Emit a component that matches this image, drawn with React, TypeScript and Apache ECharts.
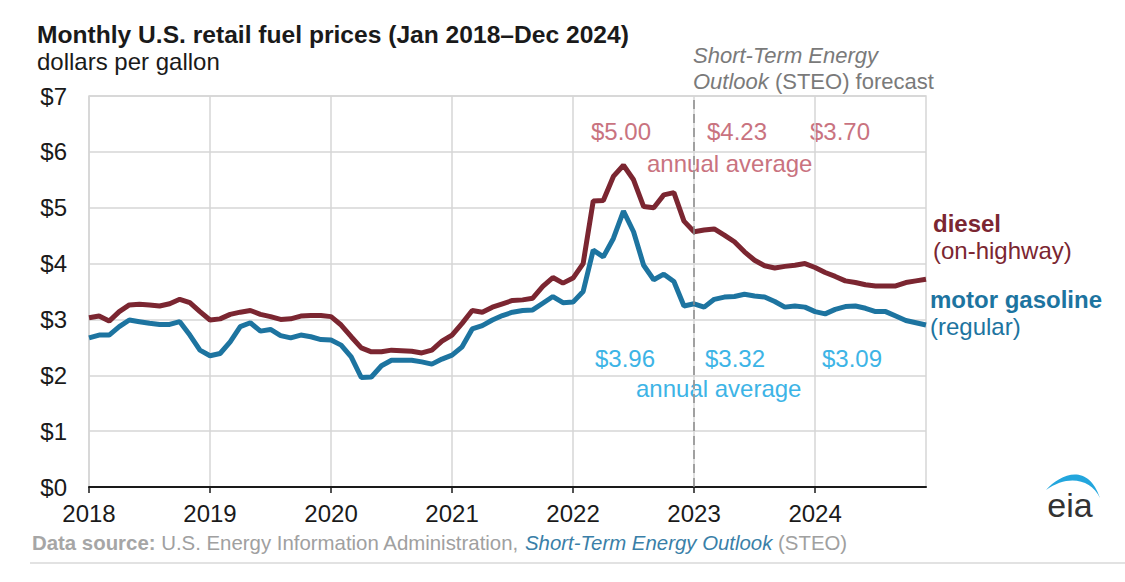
import React, { useEffect, useRef } from "react";
import * as echarts from "echarts";

const years = ["2018", "2019", "2020", "2021", "2022", "2023", "2024"];
const months = ["01", "02", "03", "04", "05", "06", "07", "08", "09", "10", "11", "12"];
const categories: string[] = [];
years.forEach((y) => months.forEach((m) => categories.push(`${y}-${m}`)));

const diesel = [
  3.03, 3.06, 2.97, 3.14, 3.26, 3.27, 3.26, 3.24, 3.28, 3.36, 3.30, 3.14,
  2.99, 3.01, 3.09, 3.13, 3.16, 3.09, 3.05, 3.00, 3.01, 3.06, 3.07, 3.07,
  3.05, 2.90, 2.69, 2.49, 2.42, 2.42, 2.45, 2.44, 2.43, 2.40, 2.45, 2.61,
  2.72, 2.93, 3.16, 3.13, 3.22, 3.28, 3.34, 3.35, 3.38, 3.59, 3.75, 3.65,
  3.74, 4.00, 5.12, 5.13, 5.56, 5.76, 5.50, 5.02, 5.00, 5.23, 5.27, 4.76,
  4.57, 4.60, 4.62, 4.51, 4.39, 4.21, 4.06, 3.96, 3.92, 3.95, 3.97, 4.00,
  3.93, 3.84, 3.77, 3.69, 3.66, 3.62, 3.60, 3.60, 3.60, 3.66, 3.69, 3.72,
];

const gasoline = [
  2.67, 2.72, 2.72, 2.87, 2.99, 2.96, 2.93, 2.91, 2.91, 2.96, 2.72, 2.45,
  2.35, 2.39, 2.60, 2.87, 2.94, 2.79, 2.82, 2.71, 2.67, 2.72, 2.69, 2.64,
  2.63, 2.54, 2.33, 1.96, 1.97, 2.17, 2.27, 2.27, 2.27, 2.24, 2.20, 2.29,
  2.36, 2.51, 2.83, 2.89, 2.99, 3.07, 3.13, 3.16, 3.17, 3.29, 3.41, 3.30,
  3.31, 3.50, 4.24, 4.12, 4.45, 4.94, 4.57, 3.97, 3.71, 3.81, 3.68, 3.24,
  3.28, 3.22, 3.36, 3.40, 3.41, 3.45, 3.42, 3.40, 3.32, 3.22, 3.24, 3.22,
  3.14, 3.10, 3.18, 3.23, 3.24, 3.20, 3.14, 3.14, 3.06, 2.98, 2.94, 2.90,
];

const dieselAverages = ["$5.00", "$4.23", "$3.70"];
const gasolineAverages = ["$3.96", "$3.32", "$3.09"];
const forecastStart = "2023-01";

const FONT = "'Liberation Sans', Arial, sans-serif";
const DIESEL_COLOR = "#7b2631";
const GAS_COLOR = "#1d74a0";
const DIESEL_NOTE = "#c9737f";
const GAS_NOTE = "#3db4e6";

echarts.graphic.registerShape(
  "eiaSwoosh",
  echarts.graphic.extendPath(
    "M1046 490 C1060 474 1088 462 1100 498 C1091 479 1068 474 1046 490 Z",
    {}
  )
);

export default function App() {
  const ref = useRef<HTMLDivElement>(null);

  useEffect(() => {
    if (!ref.current) return;
    const chart = echarts.init(ref.current, null, { renderer: "svg" });
    const yearTick = (i: number) => i % 12 === 0;

    const txt = (x: number, y: number, text: string, font: string, fill: string, extra: any = {}) => ({
      type: "text",
      x,
      y,
      silent: true,
      style: { text, font, fill, align: "left", verticalAlign: "middle", ...extra },
    });

    chart.setOption({
      animation: false,
      backgroundColor: "#ffffff",
      grid: {
        left: 89,
        right: 199,
        top: 96,
        bottom: 95,
        show: true,
        borderColor: "#d6d6d6",
        borderWidth: 1.5,
      },
      xAxis: {
        type: "category",
        data: categories,
        boundaryGap: false,
        axisLine: { show: true, lineStyle: { color: "#1a1a1a", width: 2 } },
        axisTick: { show: true, interval: yearTick, length: 6, lineStyle: { color: "#1a1a1a", width: 1.5 } },
        axisLabel: {
          interval: yearTick,
          formatter: (v: string) => v.slice(0, 4),
          fontFamily: FONT,
          fontSize: 24,
          color: "#1a1a1a",
          margin: 14,
        },
        splitLine: { show: true, interval: yearTick, lineStyle: { color: "#d6d6d6", width: 1.5 } },
      },
      yAxis: {
        type: "value",
        min: 0,
        max: 7,
        interval: 1,
        axisLine: { show: false },
        axisTick: { show: false },
        axisLabel: {
          formatter: (v: number) => `$${v}`,
          fontFamily: FONT,
          fontSize: 24,
          color: "#1a1a1a",
          margin: 22,
        },
        splitLine: { show: true, lineStyle: { color: "#d6d6d6", width: 1.5 } },
      },
      series: [
        {
          name: "motor gasoline",
          type: "line",
          data: gasoline,
          showSymbol: false,
          lineStyle: { color: GAS_COLOR, width: 5 },
          itemStyle: { color: GAS_COLOR },
          z: 3,
          markLine: {
            silent: true,
            symbol: "none",
            label: { show: false },
            lineStyle: { color: "#8a8a8a", type: [9, 5], width: 1.5 },
            data: [{ xAxis: forecastStart }],
          },
        },
        {
          name: "diesel",
          type: "line",
          data: diesel,
          showSymbol: false,
          lineStyle: { color: DIESEL_COLOR, width: 5 },
          itemStyle: { color: DIESEL_COLOR },
          z: 4,
        },
      ],
      graphic: [
        txt(37, 34, "Monthly U.S. retail fuel prices (Jan 2018\u2013Dec 2024)", `bold 24.6px ${FONT}`, "#1a1a1a"),
        txt(37, 61, "dollars per gallon", `24px ${FONT}`, "#1a1a1a"),
        txt(693, 55, "Short-Term Energy", `italic 22px ${FONT}`, "#7a7a7a"),
        txt(693, 81, "{i|Outlook} (STEO) forecast", `22px ${FONT}`, "#7a7a7a", {
          rich: { i: { fontStyle: "italic", fontFamily: FONT, fontSize: 22, fill: "#7a7a7a" } },
        }),
        txt(591, 131, dieselAverages[0], `24px ${FONT}`, DIESEL_NOTE),
        txt(707, 131, dieselAverages[1], `24px ${FONT}`, DIESEL_NOTE),
        txt(810, 131, dieselAverages[2], `24px ${FONT}`, DIESEL_NOTE),
        txt(647, 163, "annual average", `24px ${FONT}`, DIESEL_NOTE),
        txt(595, 358, gasolineAverages[0], `24px ${FONT}`, GAS_NOTE),
        txt(705, 358, gasolineAverages[1], `24px ${FONT}`, GAS_NOTE),
        txt(822, 358, gasolineAverages[2], `24px ${FONT}`, GAS_NOTE),
        txt(636, 388, "annual average", `24px ${FONT}`, GAS_NOTE),
        txt(933, 223, "diesel", `bold 24px ${FONT}`, DIESEL_COLOR),
        txt(933, 250, "(on-highway)", `24px ${FONT}`, DIESEL_COLOR),
        txt(930, 299, "motor gasoline", `bold 24px ${FONT}`, GAS_COLOR),
        txt(930, 326, "(regular)", `24px ${FONT}`, GAS_COLOR),
        txt(
          32,
          543,
          "{b|Data source:} U.S. Energy Information Administration, {i|Short-Term Energy Outlook} (STEO)",
          `20.4px ${FONT}`,
          "#a0a0a0",
          {
            rich: {
              b: { fontWeight: "bold", fontFamily: FONT, fontSize: 20.4, fill: "#a6a6a6" },
              i: { fontStyle: "italic", fontFamily: FONT, fontSize: 20.4, fill: "#3a7fa8" },
            },
          }
        ),
        {
          type: "line",
          silent: true,
          shape: { x1: 30, y1: 563, x2: 1125, y2: 563 },
          style: { stroke: "#d9d9d9", lineWidth: 1.5 },
        },
        {
          type: "eiaSwoosh",
          x: 0,
          y: 0,
          silent: true,
          style: { fill: "#23a6dd" },
        },
        {
          type: "text",
          x: 1070,
          y: 505,
          silent: true,
          style: { text: "eia", font: `34px ${FONT}`, fill: "#333333", align: "center", verticalAlign: "middle" },
        },
      ],
    });

    return () => chart.dispose();
  }, []);

  return (
    <div
      ref={ref}
      style={{ position: "absolute", left: 0, top: 0, width: 1125, height: 582, background: "#fff" }}
    />
  );
}
